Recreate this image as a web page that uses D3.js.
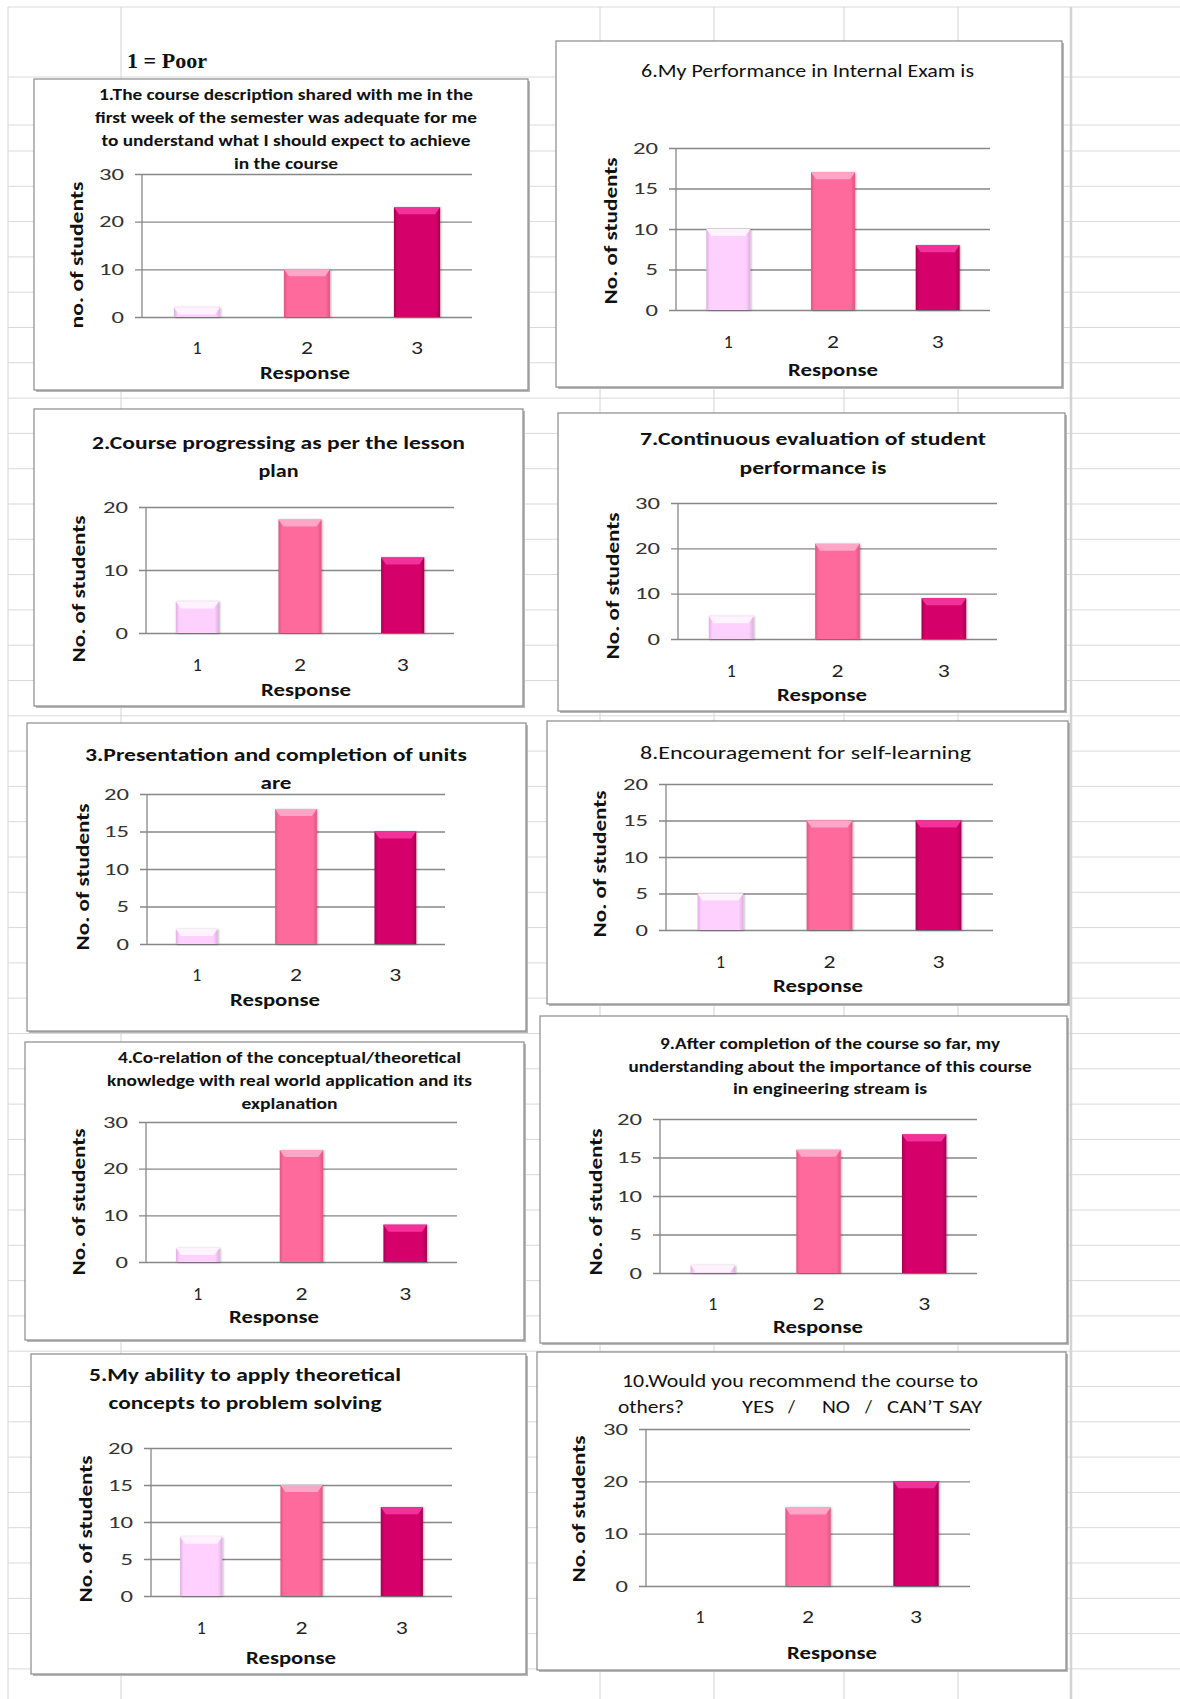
<!DOCTYPE html>
<html>
<head>
<meta charset="utf-8">
<script src="https://cdn.jsdelivr.net/npm/d3@7/dist/d3.min.js"></script>
<style>
  html, body { margin: 0; padding: 0; background: #ffffff; }
  svg { display: block; }
  text { font-family: Carlito, Lato, "Open Sans", sans-serif; }
</style>
</head>
<body>
<svg id="sheet" width="1180" height="1699"></svg>
<script>
// ---- survey data: counts of students for responses 1, 2, 3 ----
const responseCategories = ["1", "2", "3"];

const q1Counts = [2, 10, 23];
const q2Counts = [5, 18, 12];
const q3Counts = [2, 18, 15];
const q4Counts = [3, 24, 8];
const q5Counts = [8, 15, 12];
const q6Counts = [10, 17, 8];
const q7Counts = [5, 21, 9];
const q8Counts = [5, 15, 15];
const q9Counts = [1, 16, 18];
const q10Counts = [0, 15, 20];

const q1Title = ["1.The course description shared with me in the", "first week of the semester was adequate for me", "to understand what I should expect to achieve", "in the course"];
const q2Title = ["2.Course progressing as per the lesson", "plan"];
const q3Title = ["3.Presentation and completion of units", "are"];
const q4Title = ["4.Co-relation of the conceptual/theoretical", "knowledge with real world application and its", "explanation"];
const q5Title = ["5.My ability to apply theoretical", "concepts to problem solving"];
const q6Title = ["6.My Performance in Internal Exam is"];
const q7Title = ["7.Continuous evaluation of student", "performance is"];
const q8Title = ["8.Encouragement for self-learning"];
const q9Title = ["9.After completion of the course so far, my", "understanding about the importance of this course", "in engineering stream is"];
const q10Title = ["10.Would you recommend the course to", ["others?", "YES", "/", "NO", "/", "CAN’T SAY"]];

// y-axis extent and tick step per chart
const axisMax  = [30, 20, 20, 30, 20, 20, 30, 20, 20, 30];
const axisStep = [10, 10, 5, 10, 5, 5, 10, 5, 5, 10];

const yAxisLabels = ["no. of students", "No. of students", "No. of students", "No. of students", "No. of students",
                     "No. of students", "No. of students", "No. of students", "No. of students", "No. of students"];
const xAxisLabel = "Response";
const scaleNote = "1 = Poor";

// ---- layout of each chart object on the sheet ----
const layout = [
  { box:[34,79,528,390],   plot:[142,472,174,317],  tx:286,   ty:[94,117,140,163],   tw:[374,382,369,104], fs:16, fw:"bold", yl:[77,255],   xly:348,  resp:[305,373] },
  { box:[34,409,523,706],  plot:[146,454,507,633],  tx:278.5, ty:[443,471],          tw:[373,40],          fs:18, fw:"bold", yl:[79,589],   xly:665,  resp:[306,690] },
  { box:[27,723,526,1031], plot:[147,445,794,944],  tx:276,   ty:[755,783],          tw:[382,31],          fs:18, fw:"bold", yl:[83,877],   xly:975,  resp:[275,1000] },
  { box:[25,1042,524,1340],plot:[146,457,1122,1262],tx:289.5, ty:[1057,1080,1103],   tw:[343,365,96],      fs:16, fw:"bold", yl:[79,1202],  xly:1294, resp:[274,1317] },
  { box:[31,1354,526,1674],plot:[151,452,1448,1596],tx:245,   ty:[1375,1403],        tw:[312,273],         fs:18, fw:"bold", yl:[86,1529],  xly:1628, resp:[291,1658] },
  { box:[556,41,1062,387], plot:[676,990,148,310],  tx:807.5, ty:[71],               tw:[333],             fs:18, fw:"normal", yl:[611,231], xly:342,  resp:[833,370] },
  { box:[558,413,1065,711],plot:[678,997,503,639],  tx:813,   ty:[439,468],          tw:[346,147],         fs:18, fw:"600",  yl:[613,586],  xly:671,  resp:[822,695] },
  { box:[547,721,1068,1004],plot:[666,993,784,930], tx:805.5, ty:[753],              tw:[331],             fs:18, fw:"normal", yl:[600,864], xly:962,  resp:[818,986] },
  { box:[540,1016,1067,1343],plot:[660,977,1119,1273],tx:830, ty:[1043,1066,1088],   tw:[340,403,194],     fs:16, fw:"600",  yl:[596,1202], xly:1304, resp:[818,1327] },
  { box:[537,1352,1066,1670],plot:[646,970,1429,1586],tx:800, ty:[1381,1407],        tw:[356],             fs:18, fw:"normal", yl:[579,1509], xly:1617, resp:[832,1653],
    pieces:[[618,66],[742,32],[788,0],[822,28],[865,0],[887,95]] }
];

const allCounts = [q1Counts, q2Counts, q3Counts, q4Counts, q5Counts, q6Counts, q7Counts, q8Counts, q9Counts, q10Counts];
const allTitles = [q1Title, q2Title, q3Title, q4Title, q5Title, q6Title, q7Title, q8Title, q9Title, q10Title];

// bar colours: main face, top bevel, darker edge
const barStyles = [
  { fill:"#FDD0FE", bevel:"#FFF3FF", edge:"#E2ACE2" },
  { fill:"#FF6A9C", bevel:"#FFA6C7", edge:"#DF5585" },
  { fill:"#D6006B", bevel:"#F2329A", edge:"#A3004F" }
];

const svg = d3.select("#sheet");
const W = 1180, H = 1699;

// ---- defs: bar gradients and shadows ----
const defs = svg.append("defs");
barStyles.forEach((s, i) => {
  const g = defs.append("linearGradient").attr("id", "barGrad" + i)
    .attr("x1", "0%").attr("x2", "100%").attr("y1", "0%").attr("y2", "0%");
  g.append("stop").attr("offset", "0%").attr("stop-color", s.edge);
  g.append("stop").attr("offset", "8%").attr("stop-color", s.fill);
  g.append("stop").attr("offset", "90%").attr("stop-color", s.fill);
  g.append("stop").attr("offset", "100%").attr("stop-color", s.edge);
});
const shadow = defs.append("filter").attr("id", "barShadow")
  .attr("x", "-20%").attr("y", "-20%").attr("width", "140%").attr("height", "140%");
shadow.append("feDropShadow").attr("dx", 1).attr("dy", 0.5).attr("stdDeviation", 1)
  .attr("flood-color", "#000").attr("flood-opacity", 0.3);

// ---- spreadsheet background grid ----
const bg = svg.append("g").attr("class", "sheet-grid");
const colLines = [8, 121, 600, 714, 844, 958, 1071];
const rowLines = [7, 77, 125];
for (let y = 151; y < H; y += 35.3) rowLines.push(y);
bg.selectAll("line.row").data(rowLines).join("line").attr("class", "row")
  .attr("x1", 8).attr("x2", W).attr("y1", d => d).attr("y2", d => d)
  .attr("stroke", "#d9d9d9").attr("stroke-width", 1);
bg.selectAll("line.col").data(colLines).join("line").attr("class", "col")
  .attr("x1", d => d).attr("x2", d => d).attr("y1", 7).attr("y2", H)
  .attr("stroke", "#d4d4d4").attr("stroke-width", (d, i) => i === colLines.length - 1 ? 2.5 : 1);

// scale note above the first chart
svg.append("text").attr("x", 127).attr("y", 61).attr("dy", "0.35em")
  .style("font-family", "'Liberation Serif', 'DejaVu Serif', serif")
  .attr("font-size", 21).attr("font-weight", "bold").attr("fill", "#111")
  .attr("textLength", 80).attr("lengthAdjust", "spacingAndGlyphs")
  .text(scaleNote);

// ---- one bar chart per survey question ----
allCounts.forEach((counts, qi) => {
  const L = layout[qi];
  const [bx0, by0, bx1, by1] = L.box;
  const [x0, x1, yTop, y0] = L.plot;
  const g = svg.append("g").attr("class", "chart q" + (qi + 1));

  // chart frame with a soft outer shadow
  g.append("rect").attr("x", bx0 + 2).attr("y", by0 + 2).attr("width", bx1 - bx0).attr("height", by1 - by0)
    .attr("fill", "#b8b8b8");
  g.append("rect").attr("x", bx0).attr("y", by0).attr("width", bx1 - bx0).attr("height", by1 - by0)
    .attr("fill", "#ffffff").attr("stroke", "#8a8a8a").attr("stroke-width", 1.2);

  const x = d3.scaleBand().domain(responseCategories).range([x0, x1])
    .paddingInner(0.58).paddingOuter(0.29);
  const y = d3.scaleLinear().domain([0, axisMax[qi]]).range([y0, yTop]);
  const ticks = d3.range(0, axisMax[qi] + axisStep[qi] / 2, axisStep[qi]);

  // value axis with gridlines across the plot
  const yAxis = g.append("g").attr("transform", `translate(${x0 - 7},0)`)
    .call(d3.axisLeft(y).tickValues(ticks).tickSize(-(x1 - x0 + 7)).tickPadding(11).tickFormat(d3.format("d")));
  yAxis.select(".domain").remove();
  yAxis.selectAll(".tick line").attr("stroke", "#878787").attr("stroke-width", 1.3);
  yAxis.selectAll(".tick text").attr("font-size", 16.5).attr("fill", "#333")
    .style("font-family", "Carlito, Lato, sans-serif")
    .attr("textLength", d => 12.5 * String(d).length).attr("lengthAdjust", "spacingAndGlyphs");

  // vertical axis line
  g.append("line").attr("x1", x0).attr("x2", x0).attr("y1", yTop).attr("y2", y0)
    .attr("stroke", "#878787").attr("stroke-width", 1.3);

  // category axis labels
  const xAxis = g.append("g").attr("transform", `translate(0,${y0})`)
    .call(d3.axisBottom(x).tickSize(0).tickPadding(L.xly - y0 - 6.2));
  xAxis.select(".domain").remove();
  xAxis.selectAll(".tick text").attr("font-size", 17.5).attr("fill", "#222")
    .style("font-family", "Carlito, Lato, sans-serif")
    .attr("textLength", d => d === "1" ? 9 : 12).attr("lengthAdjust", "spacingAndGlyphs");

  // bevelled bars
  const bars = g.append("g").attr("filter", "url(#barShadow)");
  counts.forEach((v, i) => {
    if (v <= 0) return;
    const bxL = x(responseCategories[i]);
    const bw = x.bandwidth();
    const yv = y(v);
    const h = y0 - yv;
    const s = barStyles[i];
    bars.append("rect").attr("x", bxL).attr("y", yv).attr("width", bw).attr("height", h)
      .attr("fill", `url(#barGrad${i})`);
    const bh = Math.min(7, h);
    const inset = 5 * bh / 7;
    bars.append("polygon")
      .attr("points", [[bxL, yv], [bxL + bw, yv], [bxL + bw - inset, yv + bh], [bxL + inset, yv + bh]].map(p => p.join(",")).join(" "))
      .attr("fill", s.bevel);
  });

  // chart title
  const title = allTitles[qi];
  title.forEach((line, li) => {
    if (Array.isArray(line)) {
      line.forEach((piece, pi) => {
        const [px, pw] = L.pieces[pi];
        const t = g.append("text").attr("x", px).attr("y", L.ty[li]).attr("dy", "0.35em")
          .attr("font-size", L.fs).attr("font-weight", L.fw).attr("fill", "#111").text(piece);
        if (pw > 0) t.attr("textLength", pw).attr("lengthAdjust", "spacingAndGlyphs");
      });
    } else {
      g.append("text").attr("x", L.tx).attr("y", L.ty[li]).attr("dy", "0.35em")
        .attr("text-anchor", "middle").attr("font-size", L.fs).attr("font-weight", L.fw).attr("fill", "#111")
        .attr("textLength", L.tw[li]).attr("lengthAdjust", "spacingAndGlyphs")
        .text(line);
    }
  });

  // axis titles
  g.append("text").attr("transform", `translate(${L.yl[0]},${L.yl[1]}) rotate(-90)`)
    .attr("dy", "0.35em").attr("text-anchor", "middle")
    .attr("font-size", 17).attr("font-weight", "bold").attr("fill", "#111")
    .attr("textLength", 147).attr("lengthAdjust", "spacingAndGlyphs")
    .text(yAxisLabels[qi]);
  g.append("text").attr("x", L.resp[0]).attr("y", L.resp[1]).attr("dy", "0.35em")
    .attr("text-anchor", "middle").attr("font-size", 17).attr("font-weight", "bold").attr("fill", "#111")
    .attr("textLength", 90).attr("lengthAdjust", "spacingAndGlyphs")
    .text(xAxisLabel);
});
</script>
</body>
</html>
